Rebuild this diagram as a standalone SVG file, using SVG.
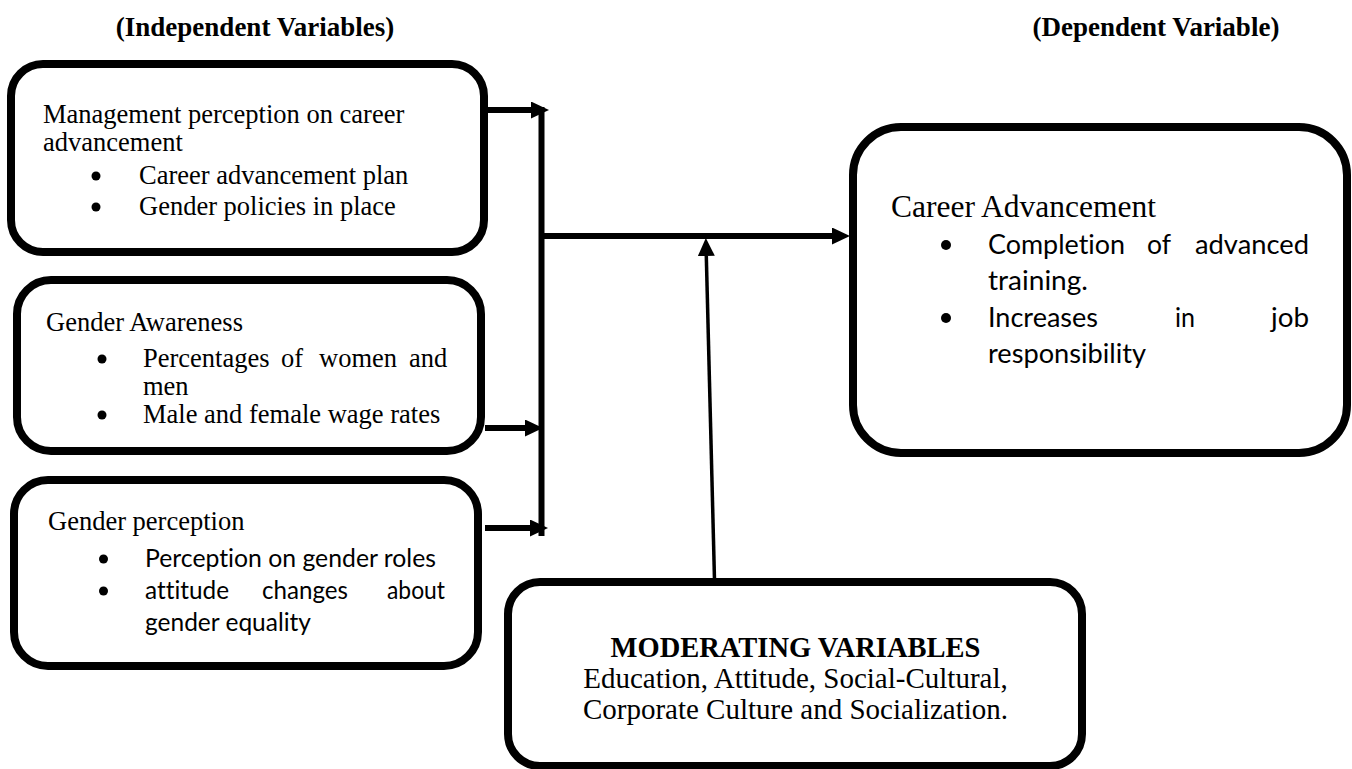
<svg xmlns="http://www.w3.org/2000/svg" width="1352" height="769" viewBox="0 0 1352 769">
<style>
.box{fill:#fff;stroke:#000;stroke-width:8}
.serif{font-family:"Liberation Serif","Times New Roman",serif;fill:#000}
.sans{font-family:Lato,"Liberation Sans",sans-serif;fill:#000;font-variant-ligatures:none;font-feature-settings:"liga" 0}
.t{font-size:26.5px}
.b{font-weight:bold}
.bul{fill:#000}
.conn{stroke:#000;stroke-width:6;fill:none}
.thin{stroke:#000;stroke-width:3.5;fill:none}
</style>
<defs>
<marker id="ah" viewBox="0 0 18 17" refX="0" refY="8.5" markerWidth="18" markerHeight="17" markerUnits="userSpaceOnUse" orient="auto">
<path d="M0,0 L18,8.5 L0,17 Z" fill="#000"/>
</marker>
</defs>
<rect width="1352" height="769" fill="#fff"/>
<g id="titles">
<text class="serif b" x="255" y="36" font-size="27" text-anchor="middle">(Independent Variables)</text>
<text class="serif b" x="1156" y="36" font-size="27" text-anchor="middle">(Dependent Variable)</text>
</g>
<g id="connectors">
<line class="conn" x1="488" y1="110" x2="531" y2="110" marker-end="url(#ah)"/>
<line class="conn" x1="541.5" y1="107" x2="541.5" y2="536"/>
<line class="conn" x1="485" y1="428" x2="525" y2="428" marker-end="url(#ah)"/>
<line class="conn" x1="485" y1="528" x2="530" y2="528" marker-end="url(#ah)"/>
<line class="conn" x1="541.5" y1="236" x2="832" y2="236" marker-end="url(#ah)"/>
<line class="thin" x1="714.5" y1="580" x2="706.3" y2="256" marker-end="url(#ah)"/>
</g>
<g id="node-management">
<rect class="box" x="11" y="64" width="473" height="188" rx="32"/>
<text class="serif t" x="43" y="123">Management perception on career</text>
<text class="serif t" x="43" y="151">advancement</text>
<circle class="bul" cx="96" cy="176" r="4.5"/>
<text class="serif t" x="139" y="184">Career advancement plan</text>
<circle class="bul" cx="96" cy="207" r="4.5"/>
<text class="serif t" x="139" y="215">Gender policies in place</text>
</g>
<g id="node-awareness">
<rect class="box" x="17" y="280" width="464" height="171" rx="34"/>
<text class="serif t" x="46" y="331">Gender Awareness</text>
<circle class="bul" cx="102" cy="359" r="4.5"/>
<text class="serif t" y="367"><tspan x="143">Percentages</tspan><tspan x="281">of</tspan><tspan x="319">women</tspan><tspan x="409">and</tspan></text>
<text class="serif t" x="143" y="395">men</text>
<circle class="bul" cx="102" cy="415" r="4.5"/>
<text class="serif t" x="143" y="423">Male and female wage rates</text>
</g>
<g id="node-perception">
<rect class="box" x="14" y="480" width="464" height="186" rx="34"/>
<text class="serif t" x="48" y="530">Gender perception</text>
<circle class="bul" cx="103.5" cy="559" r="4.5"/>
<text class="sans" font-size="25" x="145" y="567" textLength="291" lengthAdjust="spacingAndGlyphs">Perception on gender roles</text>
<circle class="bul" cx="103.5" cy="591" r="4.5"/>
<text class="sans" font-size="25" x="145" y="599" textLength="84" lengthAdjust="spacingAndGlyphs">attitude</text>
<text class="sans" font-size="25" x="262" y="599" textLength="86" lengthAdjust="spacingAndGlyphs">changes</text>
<text class="sans" font-size="25" x="387" y="599" textLength="58" lengthAdjust="spacingAndGlyphs">about</text>
<text class="sans" font-size="25" x="145" y="631" textLength="166" lengthAdjust="spacingAndGlyphs">gender equality</text>
</g>
<g id="node-career">
<rect class="box" x="853" y="127" width="494" height="326" rx="48"/>
<text class="serif" font-size="31.5" x="891" y="217">Career Advancement</text>
<circle class="bul" cx="946" cy="245" r="5"/>
<text class="sans" font-size="27" x="988" y="254" textLength="137" lengthAdjust="spacingAndGlyphs">Completion</text>
<text class="sans" font-size="27" x="1147" y="254" textLength="24" lengthAdjust="spacingAndGlyphs">of</text>
<text class="sans" font-size="27" x="1195" y="254" textLength="114" lengthAdjust="spacingAndGlyphs">advanced</text>
<text class="sans" font-size="27" x="988" y="290" textLength="100" lengthAdjust="spacingAndGlyphs">training.</text>
<circle class="bul" cx="946" cy="318" r="5"/>
<text class="sans" font-size="27" x="988" y="327" textLength="110" lengthAdjust="spacingAndGlyphs">Increases</text>
<text class="sans" font-size="27" x="1175" y="327" textLength="20" lengthAdjust="spacingAndGlyphs">in</text>
<text class="sans" font-size="27" x="1271" y="327" textLength="38" lengthAdjust="spacingAndGlyphs">job</text>
<text class="sans" font-size="27" x="988" y="363" textLength="158" lengthAdjust="spacingAndGlyphs">responsibility</text>
</g>
<g id="node-moderating">
<rect class="box" x="508" y="582" width="574" height="184" rx="32"/>
<text class="serif b" font-size="28.5" x="795.5" y="657" text-anchor="middle">MODERATING VARIABLES</text>
<text class="serif" font-size="29" x="795.5" y="688" text-anchor="middle">Education, Attitude, Social-Cultural,</text>
<text class="serif" font-size="29" x="795.5" y="719" text-anchor="middle">Corporate Culture and Socialization.</text>
</g>
</svg>
